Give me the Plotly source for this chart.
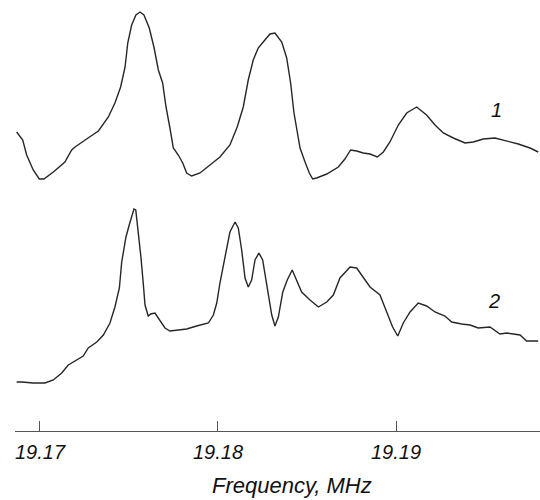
import plotly.graph_objects as go

# Spectrum 1 (upper trace): frequency (MHz) and intensity (arb. units)
freq1 = [19.16869, 19.16903, 19.16925, 19.16962, 19.16996, 19.17022, 19.17075, 19.17140,
         19.17178, 19.17197, 19.17262, 19.17328, 19.17384, 19.17421, 19.17453, 19.17478,
         19.17493, 19.17515, 19.17539, 19.17562, 19.17584, 19.17614, 19.17640, 19.17665,
         19.17689, 19.17708, 19.17730, 19.17749, 19.17777, 19.17802, 19.17824, 19.17852,
         19.17899, 19.17955, 19.18011, 19.18067, 19.18108, 19.18142, 19.18170, 19.18198,
         19.18226, 19.18254, 19.18292, 19.18320, 19.18358, 19.18386, 19.18408, 19.18427,
         19.18442, 19.18461, 19.18489, 19.18513, 19.18532, 19.18554, 19.18611, 19.18676,
         19.18713, 19.18745, 19.18779, 19.18816, 19.18854, 19.18895, 19.18929, 19.18966,
         19.19013, 19.19060, 19.19116, 19.19172, 19.19219, 19.19266, 19.19322, 19.19388,
         19.19434, 19.19490, 19.19556, 19.19622, 19.19687, 19.19753, 19.19799]
signal1 = [299, 291, 276, 261, 252, 252, 259, 269,
           281, 284, 292, 300, 314, 328, 344, 364,
           388, 406, 416, 419, 416, 403, 384, 361,
           348, 324, 303, 283, 276, 268, 258, 255,
           258, 266, 274, 286, 304, 324, 351, 371,
           383, 389, 397, 398, 389, 373, 348, 318,
           301, 283, 269, 258, 252, 253, 257, 264,
           272, 281, 280, 278, 277, 274, 279, 289,
           306, 318, 324, 316, 306, 298, 293, 288,
           289, 292, 293, 290, 287, 283, 279]

# Spectrum 2 (lower trace)
freq2 = [19.16869, 19.16897, 19.16962, 19.17028, 19.17075, 19.17122, 19.17159, 19.17206,
         19.17243, 19.17271, 19.17319, 19.17356, 19.17393, 19.17421, 19.17446, 19.17459,
         19.17483, 19.17506, 19.17528, 19.17538, 19.17552, 19.17567, 19.17580, 19.17590,
         19.17608, 19.17622, 19.17646, 19.17674, 19.17702, 19.17730, 19.17777, 19.17824,
         19.17880, 19.17946, 19.17974, 19.17993, 19.18011, 19.18034, 19.18052, 19.18067,
         19.18096, 19.18114, 19.18133, 19.18152, 19.18170, 19.18189, 19.18208, 19.18230,
         19.18251, 19.18268, 19.18283, 19.18302, 19.18320, 19.18339, 19.18364, 19.18389,
         19.18417, 19.18442, 19.18470, 19.18517, 19.18564, 19.18611, 19.18648, 19.18685,
         19.18742, 19.18779, 19.18816, 19.18854, 19.18910, 19.18948, 19.18981, 19.19010,
         19.19041, 19.19079, 19.19125, 19.19172, 19.19219, 19.19275, 19.19313, 19.19369,
         19.19416, 19.19462, 19.19528, 19.19584, 19.19622, 19.19697, 19.19734, 19.19799]
signal2 = [49, 49, 48, 48, 51, 58, 66, 71,
           75, 83, 89, 96, 108, 124, 143, 169,
           194, 209, 222, 221, 201, 174, 148, 126,
           115, 117, 118, 111, 103, 100, 101, 102,
           105, 108, 116, 128, 148, 168, 184, 199,
           209, 203, 181, 153, 144, 151, 171, 178,
           171, 151, 134, 116, 105, 114, 139, 151,
           161, 151, 139, 131, 124, 129, 136, 153,
           164, 163, 154, 144, 136, 119, 104, 95,
           108, 119, 128, 125, 119, 115, 109, 107,
           106, 103, 104, 97, 98, 96, 90, 90]

tick_vals = [19.17, 19.18, 19.19]
tick_text = ["19.17", "19.18", "19.19"]
x_range = [19.168596, 19.19809]
y_range = [0, 431]

label1 = ("1", 19.19566, 321)
label2 = ("2", 19.19551, 130)

line_style = dict(color="#262626", width=1.4)

fig = go.Figure()
fig.add_trace(go.Scatter(x=freq1, y=signal1, mode="lines", line=line_style,
                         showlegend=False, hoverinfo="skip"))
fig.add_trace(go.Scatter(x=freq2, y=signal2, mode="lines", line=line_style,
                         showlegend=False, hoverinfo="skip"))

for txt, fx, fy in (label1, label2):
    fig.add_annotation(x=fx, y=fy, text=txt, showarrow=False,
                       font=dict(family="Liberation Sans", size=20, color="#111",
                                 style="italic"))

fig.add_annotation(x=(292 - 15) / 525, y=-(486 - 431) / 431, xref="paper", yref="paper",
                   text="Frequency, MHz", showarrow=False, yanchor="middle",
                   font=dict(family="Liberation Sans", size=22, color="#111",
                             style="italic"))

fig.update_layout(
    width=540, height=500,
    margin=dict(l=15, r=0, t=0, b=69),
    paper_bgcolor="white", plot_bgcolor="white",
    xaxis=dict(range=x_range, tickvals=tick_vals, ticktext=tick_text,
               showgrid=False, zeroline=False, showline=True,
               linecolor="#555", linewidth=1.2,
               ticks="inside", ticklen=10, tickwidth=1.2, tickcolor="#555",
               ticklabelstandoff=3,
               tickfont=dict(family="Liberation Sans", size=20,
                             color="#111", style="italic")),
    yaxis=dict(range=y_range, visible=False, showgrid=False, zeroline=False),
)

fig.write_html("out.html", config={"displayModeBar": False},
               post_script="document.body.style.margin='0';")
